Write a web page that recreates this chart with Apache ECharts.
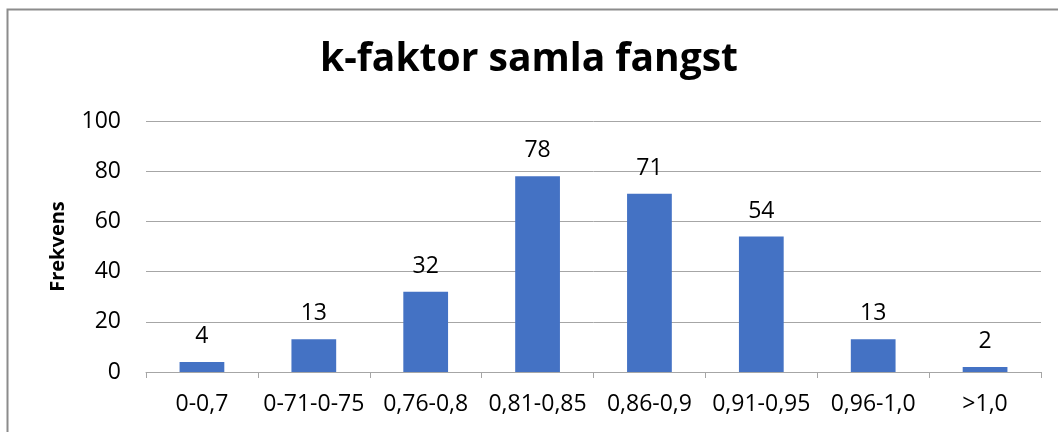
<!DOCTYPE html>
<html>
<head>
<meta charset="utf-8">
<script src="https://cdn.jsdelivr.net/npm/echarts@6/dist/echarts.min.js"></script>
<style>
html,body{margin:0;padding:0;background:#fff;}
#main{width:1058px;height:432px;}
</style>
</head>
<body>
<div id="main"></div>
<script>
var categories = ['0-0,7', '0-71-0-75', '0,76-0,8', '0,81-0,85', '0,86-0,9', '0,91-0,95', '0,96-1,0', '>1,0'];
var frekvens = [4, 13, 32, 78, 71, 54, 13, 2];
var yTicks = [0, 20, 40, 60, 80, 100];

var myChart = echarts.init(document.getElementById('main'));
var fontName = 'Open Sans';

var option = {
    animation: false,
    backgroundColor: '#fff',
    // ramme rundt diagrammet
    graphic: [{
        type: 'rect',
        shape: {x: 7.5, y: 9.5, width: 1200, height: 600},
        style: {fill: 'none', stroke: '#8c8c8c', lineWidth: 2},
        silent: true
    }],
    title: {
        text: 'k-faktor samla fangst',
        left: 'center',
        top: 35,
        textStyle: {fontFamily: fontName, fontSize: 39, fontWeight: 'bold', color: '#000'}
    },
    grid: {left: 146, right: 17, top: 121, bottom: 60},
    xAxis: {
        type: 'category',
        data: categories,
        axisLine: {lineStyle: {color: '#a6a6a6', width: 1}},
        axisTick: {show: true, length: 6, lineStyle: {color: '#a6a6a6'}},
        axisLabel: {fontFamily: fontName, fontSize: 23, color: '#000', margin: 21, interval: 0}
    },
    yAxis: {
        type: 'value',
        min: yTicks[0],
        max: yTicks[yTicks.length - 1],
        interval: 20,
        name: 'Frekvens',
        nameLocation: 'middle',
        nameGap: 78,
        nameTextStyle: {fontFamily: fontName, fontSize: 20, fontWeight: 'bold', color: '#000'},
        axisLine: {show: false},
        axisTick: {show: false},
        axisLabel: {fontFamily: fontName, fontSize: 23, color: '#000', margin: 25},
        splitLine: {lineStyle: {color: '#a6a6a6', width: 1}}
    },
    series: [{
        type: 'bar',
        data: frekvens,
        barWidth: '40%',
        itemStyle: {color: '#4472c4'},
        label: {
            show: true,
            position: 'top',
            distance: 14,
            fontFamily: fontName,
            fontSize: 23,
            color: '#000'
        }
    }]
};

myChart.setOption(option, true);
</script>
</body>
</html>
